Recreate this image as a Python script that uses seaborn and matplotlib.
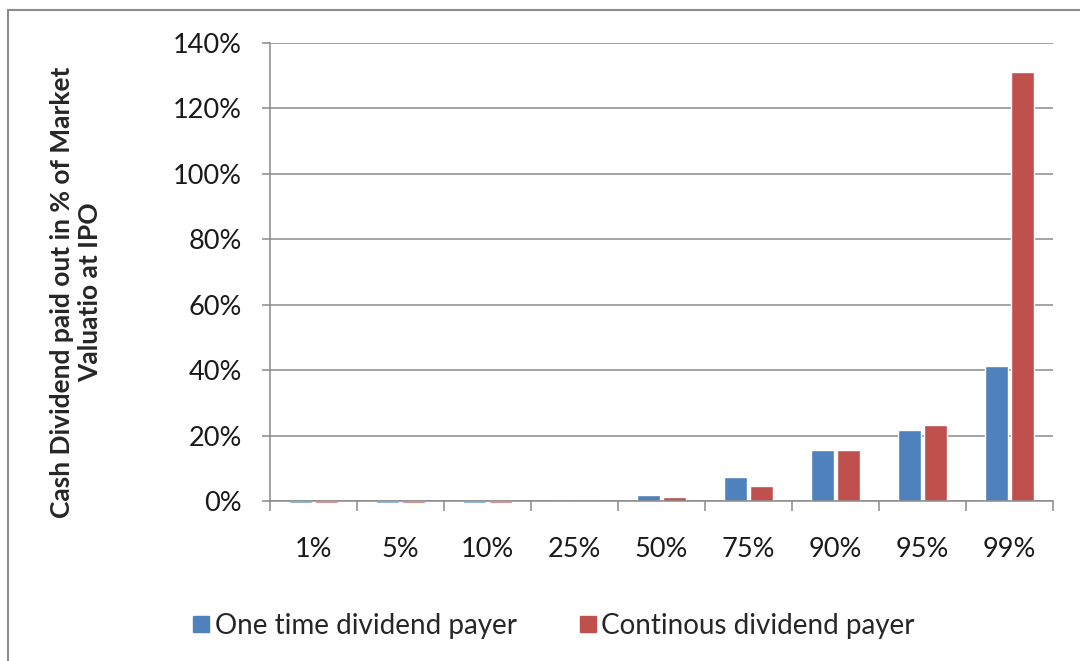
import matplotlib
matplotlib.use("Agg")
import matplotlib.pyplot as plt
from matplotlib.patches import Rectangle
from matplotlib.lines import Line2D
from matplotlib.ticker import FuncFormatter, FixedLocator
import seaborn as sns
import pandas as pd

# Percentiles of the distribution and the dividend paid out (% of market value at IPO)
percentiles = ["1%", "5%", "10%", "25%", "50%", "75%", "90%", "95%", "99%"]
one_time = [-0.5, -0.5, -0.5, 0.0, 1.8, 7.4, 15.6, 21.6, 41.3]
continuous = [-0.5, -0.5, -0.5, 0.0, 1.2, 4.7, 15.6, 23.2, 131.1]
series_names = ["One time dividend payer", "Continous dividend payer"]
colors = ["#4F81BD", "#C0504D"]
y_ticks = [0, 20, 40, 60, 80, 100, 120, 140]

df = pd.DataFrame({
    "percentile": percentiles * 2,
    "value": one_time + continuous,
    "series": [series_names[0]] * len(percentiles) + [series_names[1]] * len(percentiles),
})

sns.set_style("white")
plt.rcParams["font.family"] = ["Lato", "DejaVu Sans"]

fig = plt.figure(figsize=(10.8, 6.61), dpi=100)
ax = fig.add_axes([270 / 1080, 1 - 501 / 661, (1053 - 270) / 1080, (501 - 43) / 661])

sns.barplot(data=df, x="percentile", y="value", hue="series", order=percentiles,
            hue_order=series_names, palette=colors, width=0.59, gap=0.08,
            saturation=1, legend=False, ax=ax)
for p in ax.patches:
    p.set_clip_on(False)

ax.set_ylim(0, 140)
ax.set_xlim(-0.5, len(percentiles) - 0.5)
ax.set_yticks(y_ticks)
ax.yaxis.set_major_formatter(FuncFormatter(lambda v, _: f"{v:.0f}%"))
ax.yaxis.grid(True, color="#8a8a8a", linewidth=1.1)
ax.set_axisbelow(True)

for side in ["top", "right"]:
    ax.spines[side].set_visible(False)
for side in ["left", "bottom"]:
    ax.spines[side].set_color("#8a8a8a")
    ax.spines[side].set_linewidth(1.1)

ax.tick_params(axis="y", which="major", length=6, width=1.1, color="#8a8a8a",
               direction="out", left=True, labelsize=19.5, pad=14, labelcolor="#1a1a1a")
ax.tick_params(axis="x", which="major", length=0, labelsize=19.5, pad=26, labelcolor="#1a1a1a")
ax.xaxis.set_minor_locator(FixedLocator([i - 0.5 for i in range(len(percentiles) + 1)]))
ax.tick_params(axis="x", which="minor", length=7, width=1.1, color="#8a8a8a",
               direction="out", bottom=True)

ax.set_xlabel("")
ax.set_ylabel("Cash Dividend paid out in % of Market\nValuatio at IPO",
              fontsize=19, fontweight="bold", linespacing=1.22)
ax.yaxis.set_label_coords(-0.214, 0.455)

handles = [Line2D([], [], marker="s", linestyle="none", markersize=11,
                  markerfacecolor=c, markeredgecolor=c) for c in colors]
fig.legend(handles, series_names, loc="center", bbox_to_anchor=(553 / 1080, 1 - 626 / 661),
           ncol=2, frameon=False, fontsize=20, handletextpad=0.15, columnspacing=2.2,
           handlelength=0.7)

# Outer chart border
fig.patches.append(Rectangle((8 / 1080, -0.2), 1.3, 0.2 + (1 - 10 / 661),
                             transform=fig.transFigure, fill=False,
                             edgecolor="#8c8c8c", linewidth=1.5))

fig.savefig("out.png", dpi=100)
